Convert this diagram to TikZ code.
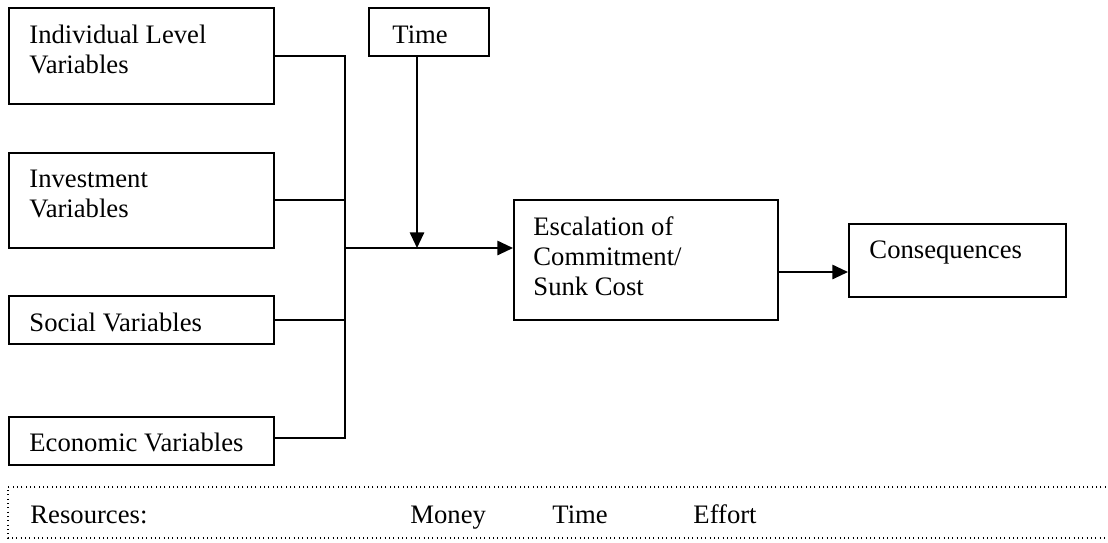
\documentclass[tikz,border=0pt]{standalone}
\usepackage{fontspec}
\setmainfont{Liberation Serif}
\usetikzlibrary{arrows.meta}
\begin{document}
\begin{tikzpicture}[x=0.45pt,y=-0.45pt,
  box/.style={draw, line width=0.85pt, inner sep=0pt, anchor=north west},
  txt/.style={inner sep=0pt, anchor=base west, align=left, font=\fontsize{12pt}{13.5pt}\selectfont},
  conn/.style={line width=0.85pt},
  arr/.style={line width=0.85pt, -{Triangle[length=7pt,width=6.4pt]}},
  dotbox/.style={line width=0.5pt, dash pattern=on 0.5pt off 1.45pt}]
\useasboundingbox (0,0) rectangle (1108,542);
% boxes
\node[box, minimum width=265*0.45pt, minimum height=96*0.45pt] (ind) at (8,7) {};
\node[box, minimum width=265*0.45pt, minimum height=95*0.45pt] (inv) at (8,152) {};
\node[box, minimum width=265*0.45pt, minimum height=48*0.45pt] (soc) at (8,295) {};
\node[box, minimum width=265*0.45pt, minimum height=48*0.45pt] (eco) at (8,416) {};
\node[box, minimum width=120*0.45pt, minimum height=48*0.45pt] (time) at (368,7) {};
\node[box, minimum width=264*0.45pt, minimum height=120*0.45pt] (esc) at (513,199) {};
\node[box, minimum width=217*0.45pt, minimum height=73*0.45pt] (cons) at (848,223) {};
% texts (base anchor = last line's baseline)
\node[txt] (tind) at (29,73) {Individual Level\\Variables};
\node[txt] (tinv) at (29,217) {Investment\\Variables};
\node[txt] (tsoc) at (29,331) {Social Variables};
\node[txt] (teco) at (29,451) {Economic Variables};
\node[txt] (ttime) at (392,43) {Time};
\node[txt] (tesc) at (533,295) {Escalation of\\Commitment/\\Sunk Cost};
\node[txt] (tcons) at (869,258) {Consequences};
% connectors
\coordinate (top) at (345,56);
\coordinate (bot) at (345,439);
\coordinate (j) at (345,248);
\coordinate (t) at (417,55);
\coordinate (eo) at (777,272);
\draw[conn] (ind.east |- top) -- (top) -- (bot);
\draw[conn] (inv.east |- 0,200) -- (345,200);
\draw[conn] (soc.east) -- (soc.east -| top);
\draw[conn] (eco.east |- 0,438) -- (345,438);
\draw[arr] (j) -- (j -| esc.west);
\draw[arr] (t) -- (t |- j);
\draw[arr] (eo) -- (eo -| cons.west);
% resources strip
\draw[dotbox] (1110,487) -- (8,487) -- (8,538) -- (1110,538);
\node[txt] (tres) at (30,523) {Resources:};
\node[txt] (tmoney) at (410,523) {Money};
\node[txt] (ttime2) at (552,523) {Time};
\node[txt] (teffort) at (693,523) {Effort};
\end{tikzpicture}
\end{document}
